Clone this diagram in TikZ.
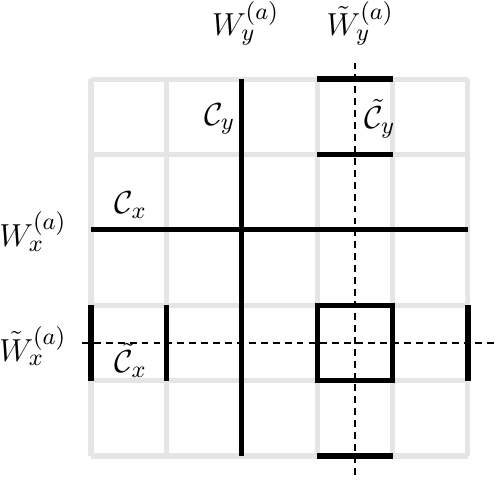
\documentclass[tikz,border=0pt]{standalone}
\usepackage{amsmath,amssymb}
\usetikzlibrary{positioning}
\definecolor{gridGray}{RGB}{229,229,229}
\tikzset{
  lattice/.style={draw=gridGray,line width=1.9pt},
  cut/.style={draw=black,line width=2pt},
  dual/.style={draw=black,line width=1pt,dash pattern=on 2.6pt off 1.9pt},
  lbl/.style={font=\fontsize{12.5}{15}\selectfont,inner sep=2pt}
}

\begin{document}
\begin{tikzpicture}
\useasboundingbox (-1.207,-0.318) rectangle (5.398,6.048);
% lattice
\draw[lattice] (0,0) grid (5,5);
% cuts
\draw[cut] (2,0) -- (2,5);
\draw[cut] (0,3) -- (5,3);
\draw[cut] (3,5) -- (4,5) (3,4) -- (4,4) (3,0) -- (4,0);
\draw[cut] (3,1) rectangle (4,2);
\draw[cut] (0,1) -- (0,2) (1,1) -- (1,2) (5,1) -- (5,2);
% dual lines
\draw[dual] (3.5,-0.25) -- (3.5,5.22);
\draw[dual] (-0.12,1.5) -- (5.36,1.5);
% labels
\node[lbl] (Wy) at (2.05,5.74) {$W_y^{(a)}$};
\node[lbl] (Wyt) at (3.57,5.74) {$\tilde{W}_y^{(a)}$};
\node[lbl,anchor=east] (Cy) at (1.99,4.47) {$\mathcal{C}_y$};
\node[lbl,anchor=west] (Cyt) at (3.55,4.47) {$\tilde{\mathcal{C}}_y$};
\node[lbl] (Cx) at (0.53,3.33) {$\mathcal{C}_x$};
\node[lbl] (Cxt) at (0.53,1.27) {$\tilde{\mathcal{C}}_x$};
\node[lbl] (Wx) at (-0.77,2.98) {$W_x^{(a)}$};
\node[lbl] (Wxt) at (-0.77,1.46) {$\tilde{W}_x^{(a)}$};
\end{tikzpicture}
\end{document}
